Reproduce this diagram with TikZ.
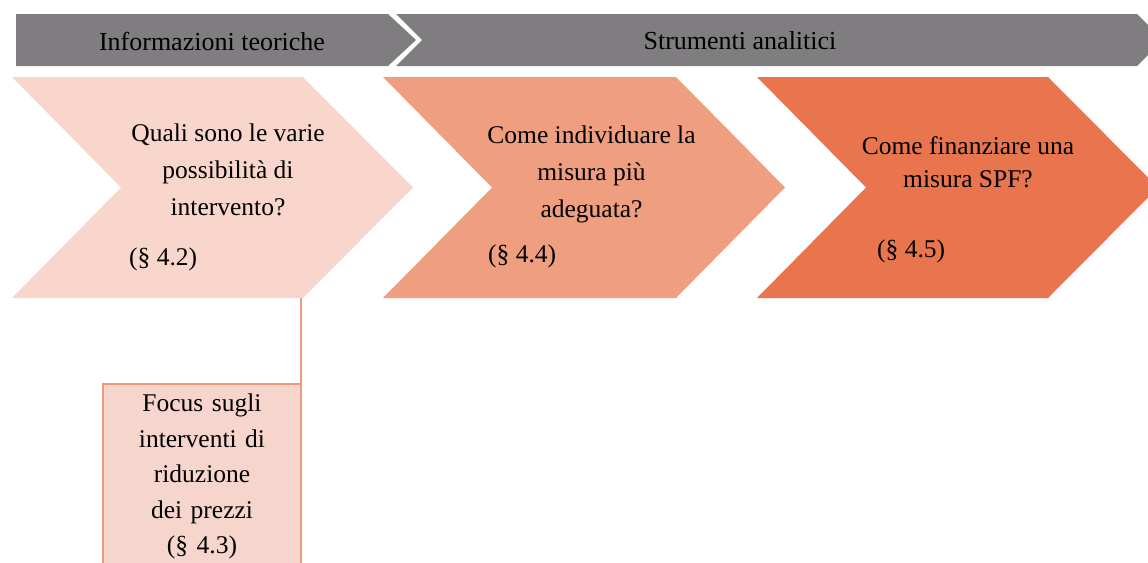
\documentclass[tikz,border=0pt]{standalone}
\usepackage{fontspec}
\setmainfont{Liberation Serif}
\definecolor{bandgray}{HTML}{807D80}
\definecolor{chevA}{HTML}{F8D6CC}
\definecolor{chevB}{HTML}{EF9E80}
\definecolor{chevC}{HTML}{E8754D}
\definecolor{boxfill}{HTML}{F6D5CD}
\definecolor{boxline}{HTML}{EC9A7C}
\tikzset{
  band/.style={fill=bandgray, draw=none},
  chev/.style={draw=none},
  hdr/.style={font=\fontsize{26}{30}\selectfont, text=black, inner sep=0pt},
  qtext/.style={font=\fontsize{25.5}{37}\selectfont, align=center, inner sep=0pt, anchor=north},
  ref/.style={font=\fontsize{25.5}{30}\selectfont, inner sep=0pt, anchor=base west},
  focusbox/.style={draw=boxline, line width=2pt, fill=boxfill, align=center,
     font=\fontsize{25.5}{35.5}\selectfont, minimum width=198pt, text width=180pt,
     inner xsep=9pt, inner ysep=10pt, anchor=north},
  link/.style={draw=boxline, line width=2pt}
}
\begin{document}
\begin{tikzpicture}[x=1pt,y=-1pt]
\useasboundingbox (0,0) rectangle (1148,562);
\begin{scope}
\clip (0,0) rectangle (1148,562);
% header band
\fill[band] (16,14) -- (388,14) -- (416,40) -- (388,66) -- (16,66) -- cycle;
\fill[band] (396,14) -- (1137,14) -- (1163,40) -- (1137,66) -- (396,66) -- (422,40) -- cycle;
\node[hdr] (h1) at (212,41) {Informazioni teoriche};
\node[hdr] (h2) at (740,41) {Strumenti analitici};
% chevrons
\fill[chevA] (12,77) -- (303,77) -- (413,187.5) -- (303,298) -- (12,298) -- (121,187.5) -- cycle;
\fill[chevB] (383,77) -- (676,77) -- (785,187.5) -- (676,298) -- (383,298) -- (492,187.5) -- cycle;
\fill[chevC] (757,77) -- (1048,77) -- (1158,187.5) -- (1048,298) -- (757,298) -- (866,187.5) -- cycle;
\coordinate (c1b) at (301,298);
% texts
\node[qtext] (q1) at (228,124) {Quali sono le varie\\possibilità di\\intervento?};
\node[ref] (r1) at (129,265) {(§ 4.2)};
\node[qtext] (q2) at (591.5,126) {Come individuare la\\misura più\\adeguata?};
\node[ref] (r2) at (488,262) {(§ 4.4)};
\node[qtext, font=\fontsize{25.5}{33}\selectfont] (q3) at (968,136) {Come finanziare una\\misura SPF?};
\node[ref] (r3) at (877,257) {(§ 4.5)};
% focus box
\node[focusbox] (fb) at (202,383) {Focus sugli\\interventi di\\riduzione\\dei prezzi\\(§ 4.3)\\[14pt]\mbox{}};
\draw[link] (c1b) -- (c1b |- fb.north);
\end{scope}
\end{tikzpicture}
\end{document}
